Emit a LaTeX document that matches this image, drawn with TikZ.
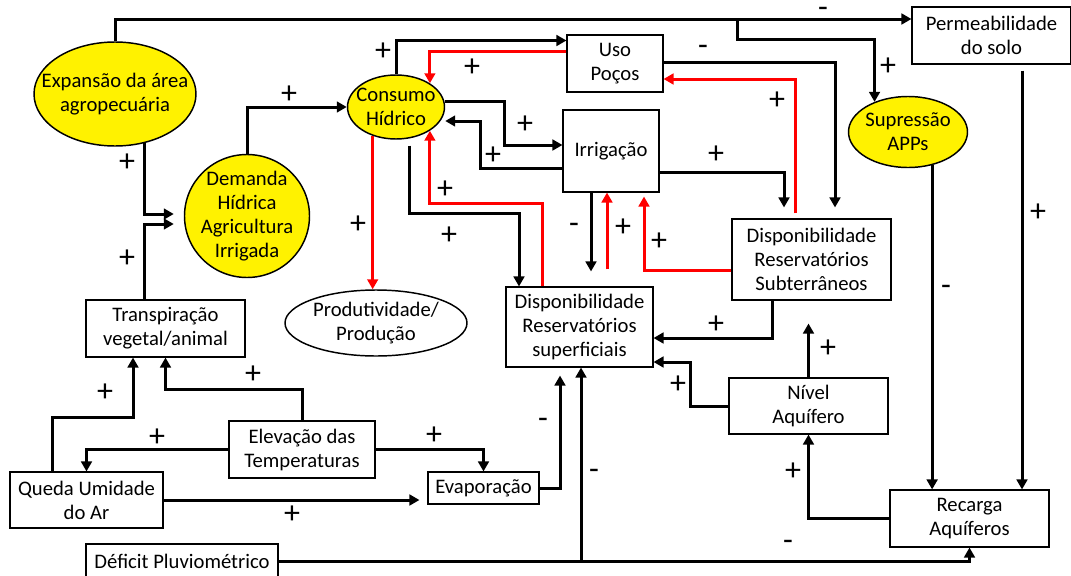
\documentclass[tikz,border=0pt]{standalone}
\usepackage{fontspec}
\setmainfont{Carlito}
\usepackage{tikz}
\usetikzlibrary{positioning, shapes.geometric, arrows.meta, calc}

\tikzset{
  box/.style={draw, line width=0.8pt, align=center, inner sep=0pt, font=\fontsize{15.5}{18}\selectfont},
  bubble/.style={ellipse, draw, line width=1.1pt, fill=yellow, inner sep=0pt},
  txt/.style={align=center, inner sep=0pt, font=\fontsize{15.5}{18}\selectfont},
  sgn/.style={inner sep=0pt, font=\fontsize{24}{24}\selectfont},
  arr/.style={line width=2.25pt, -{Triangle[length=7.5pt,width=8pt]}},
  rarr/.style={arr, red},
}

\begin{document}
\begin{tikzpicture}[x=0.75pt, y=-0.75pt]
    \useasboundingbox (0,0) rectangle (1071,575);

    % Yellow bubbles
    \node[bubble, minimum width=121.5pt, minimum height=78pt,
          label={[txt]center:Expansão da área\\agropecuária}] (expansao) at (115,94) {};
    \node[bubble, minimum width=93.75pt, minimum height=92.25pt,
          label={[txt]center:Demanda\\Hídrica\\Agricultura\\Irrigada}] (demanda) at (247,216) {};
    \node[bubble, minimum width=72.75pt, minimum height=48pt,
          label={[txt]center:Consumo\\Hídrico}] (consumo) at (396,107) {};
    \node[bubble, minimum width=89.25pt, minimum height=53.25pt,
          label={[txt]center:Supressão\\APPs}] (supressao) at (908,132) {};
    \node[bubble, fill=white, minimum width=136.5pt, minimum height=49.5pt,
          label={[txt]center:Produtividade/\\Produção}] (produt) at (376,323) {};

    % Boxes
    \node[box, minimum width=72pt, minimum height=42.75pt] (uso) at (615,63.5) {Uso\\Poços};
    \node[box, minimum width=72pt, minimum height=61.5pt] (irrig) at (611,151) {Irrigação};
    \node[box, minimum width=119.25pt, minimum height=42.75pt] (permeab) at (991.5,35.5) {Permeabilidade\\do solo};
    \node[box, minimum width=119.25pt, minimum height=42.75pt] (transp) at (165.5,328.5) {Transpiração\\vegetal/animal};
    \node[box, minimum width=110.25pt, minimum height=60pt] (dispsup) at (579.5,327) {Disponibilidade\\Reservatórios\\superficiais};
    \node[box, minimum width=119.25pt, minimum height=60.75pt] (dispsub) at (811.5,259.5) {Disponibilidade\\Reservatórios\\Subterrâneos};
    \node[box, minimum width=119.25pt, minimum height=42pt] (nivel) at (808.5,406) {Nível\\Aquífero};
    \node[box, minimum width=119.25pt, minimum height=42.75pt] (recarga) at (969.5,518.5) {Recarga\\Aquíferos};
    \node[box, minimum width=109.5pt, minimum height=42.75pt] (elev) at (302,449.5) {Elevação das\\Temperaturas};
    \node[box, minimum width=114.75pt, minimum height=42pt] (queda) at (86.5,500) {Queda Umidade\\do Ar};
    \node[box, minimum width=83.25pt, minimum height=24pt] (evap) at (483.5,488) {Evaporação};
    \node[box, minimum width=144pt, minimum height=25.5pt] (deficit) at (182,561) {Déficit Pluviométrico};

    % Split points
    \coordinate (topsplit) at (737,19);
    \coordinate (chuvasplit) at (deficit.east -| 581,0);

    % Black arrows
    \draw[arr] (expansao.north) |- ($(permeab.west)+(0,-16.5)$);
    \draw[arr] (topsplit) -- (737,39) -| (supressao.138);
    \draw[arr] (expansao.-59) |- ($(demanda.west)+(-10,-2)$);
    \draw[arr] ($(transp.north)+(-21.5,0)$) |- ($(demanda.west)+(-10,8)$);
    \draw[arr] (demanda.north) |- (consumo.west);
    \draw[arr] (consumo.north) |- ($(uso.west)+(0,-23)$);
    \draw[arr] ($(consumo.east)+(0,-6)$) -| (504,123) |- ($(irrig.west)+(0,-6)$);
    \draw[arr] ($(irrig.west)+(0,17)$) -| (480,140) |- ($(consumo.east)+(0,14)$);
    \draw[arr] ($(consumo.south)+(13,6)$) |- (480,213) -| ($(dispsup.north)+(-60.5,0)$);
    \draw[arr] ($(irrig.south)+(-20,0)$) -- ($(dispsup.north)+(11.5,-15)$);
    \draw[arr] ($(irrig.east)+(0,21)$) -| ($(dispsub.north)+(-27.5,-11)$);
    \draw[arr] ($(uso.east)+(0,-1.5)$) -| ($(dispsub.north)+(23.5,-11)$);
    \draw[arr] ($(dispsub.south)+(-39.5,0)$) |- ($(dispsup.east)+(0,11)$);
    \draw[arr] (nivel.west) -| (690,384) |- ($(dispsup.east)+(0,35)$);
    \draw[arr] (nivel.north) -- ($(dispsub.south)+(-3,23)$);
    \draw[arr] (recarga.west) -| (nivel.south);
    \draw[arr] (supressao.-54) -- (supressao.-54 |- recarga.north);
    \draw[arr] ($(permeab.south)+(30.5,6)$) -- ($(recarga.north)+(52.5,0)$);
    \draw[arr] (deficit.east) -| (recarga.south);
    \draw[arr] (chuvasplit) -- ($(dispsup.south)+(1.5,0)$);
    \draw[arr] (evap.east) -| ($(dispsup.south)+(-19.5,8)$);
    \draw[arr] (elev.north) |- (230,389) -| (transp.south);
    \draw[arr] ($(queda.north)+(-34.5,0)$) |- (100,417) -| ($(transp.south)+(-32.5,0)$);
    \draw[arr] (elev.west) -| (queda.north);
    \draw[arr] (elev.east) -| (evap.north);
    \draw[arr] (queda.east) -- ($(queda.east -| evap.west)+(-8,0)$);

    % Red arrows
    \draw[rarr] ($(uso.west)+(0,-12.5)$) -| (consumo.35);
    \draw[rarr] (consumo.-129) -- (consumo.-129 |- produt.north);
    \draw[rarr] ($(dispsup.north)+(-37.5,0)$) |- (480,203) -| (consumo.-35);
    \draw[rarr] ($(dispsup.north)+(27.5,-17)$) -- ($(irrig.south)+(-4,0)$);
    \draw[rarr] ($(dispsub.west)+(0,11)$) -| ($(irrig.south)+(33,4)$);
    \draw[rarr] ($(dispsub.north)+(-16.5,-5)$) |- ($(uso.east)+(0,15.5)$);

    % Signs
    \node[sgn] (s1) at (823,12) {-};
    \node[sgn] (s2) at (888,67) {+};
    \node[sgn] (s3) at (127,163) {+};
    \node[sgn] (s4) at (127,259) {+};
    \node[sgn] (s5) at (289,95) {+};
    \node[sgn] (s6) at (383,52) {+};
    \node[sgn] (s7) at (472,68) {+};
    \node[sgn] (s8) at (525,125) {+};
    \node[sgn] (s9) at (493,156) {+};
    \node[sgn] (s10) at (445,190) {+};
    \node[sgn] (s11) at (358,225) {+};
    \node[sgn] (s12) at (449,236) {+};
    \node[sgn] (s13) at (574,228) {-};
    \node[sgn] (s14) at (623,228) {+};
    \node[sgn] (s15) at (659,242) {+};
    \node[sgn] (s16) at (703,50) {-};
    \node[sgn] (s17) at (777,101) {+};
    \node[sgn] (s18) at (716,155) {+};
    \node[sgn] (s19) at (716,325) {+};
    \node[sgn] (s20) at (678,385) {+};
    \node[sgn] (s21) at (828,349) {+};
    \node[sgn] (s22) at (946,290) {-};
    \node[sgn] (s23) at (1038,213) {+};
    \node[sgn] (s24) at (793,472) {+};
    \node[sgn] (s25) at (788,545) {-};
    \node[sgn] (s26) at (594,474) {-};
    \node[sgn] (s27) at (543,423) {-};
    \node[sgn] (s28) at (434,436) {+};
    \node[sgn] (s29) at (253,375) {+};
    \node[sgn] (s30) at (105,393) {+};
    \node[sgn] (s31) at (157,438) {+};
    \node[sgn] (s32) at (292,515) {+};

\end{tikzpicture}
\end{document}
